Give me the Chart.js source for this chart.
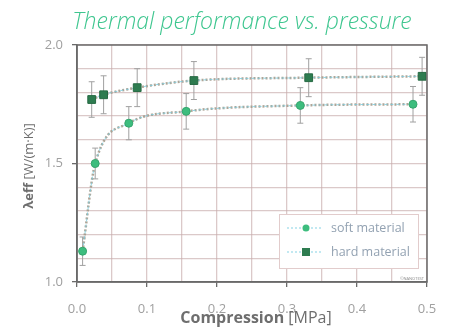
<!DOCTYPE html>
<html><head><meta charset="utf-8">
<script src="https://cdn.jsdelivr.net/npm/chart.js@4.4.1/dist/chart.umd.min.js"></script>
<style>html,body{margin:0;padding:0;background:#fff;}#wrap{width:454px;height:336px;position:relative}</style>
</head><body><div id="wrap"><canvas id="c" width="454" height="336"></canvas></div>
<script>
const chartTitle = 'Thermal performance vs. pressure';
const xTitleBold = 'Compression', xTitleRest = ' [MPa]';
const yTitleBold = 'λeff', yTitleRest = ' [W/(m·K)]';
const seriesNames = ['soft material', 'hard material'];
const softX = [0.008, 0.026, 0.074, 0.156, 0.319, 0.480];
const softY = [1.13, 1.50, 1.67, 1.72, 1.745, 1.75];
const softErr = [0.06, 0.065, 0.07, 0.075, 0.075, 0.075];
const hardX = [0.021, 0.038, 0.086, 0.167, 0.331, 0.493];
const hardY = [1.77, 1.79, 1.82, 1.85, 1.862, 1.868];
const hardErr = [0.075, 0.08, 0.08, 0.08, 0.08, 0.08];
const xTickLabels = [0.0, 0.1, 0.2, 0.3, 0.4, 0.5];
const yTickLabels = [1.0, 1.5, 2.0];
const watermark = '©NANOTEST';

const SOFT = '#3dbd7e', HARD = '#2e7c50';
const pts = (xs, ys) => xs.map((x, i) => ({x: x, y: ys[i]}));
const isLabel = (arr, v) => arr.some(a => Math.abs(a - v) < 1e-6);

const fitBase = {showLine: true, pointRadius: 0, pointHoverRadius: 0, cubicInterpolationMode: 'monotone', fill: false};
const data = {
  datasets: [
    Object.assign({label: 'soft fit', data: pts(softX, softY), borderColor: 'rgba(165,155,140,0.9)', borderWidth: 2.5, borderDash: [2, 2], order: 5}, fitBase),
    Object.assign({label: 'hard fit', data: pts(hardX, hardY), borderColor: 'rgba(165,155,140,0.9)', borderWidth: 2.5, borderDash: [2, 2], order: 5}, fitBase),
    Object.assign({label: 'soft line', data: pts(softX, softY), borderColor: 'rgba(120,205,225,0.8)', borderWidth: 1, borderDash: [3, 3], order: 4}, fitBase),
    Object.assign({label: 'hard line', data: pts(hardX, hardY), borderColor: 'rgba(120,205,225,0.8)', borderWidth: 1, borderDash: [3, 3], order: 4}, fitBase),
    {label: seriesNames[0], data: pts(softX, softY), showLine: false, pointStyle: 'circle', pointRadius: 4, backgroundColor: SOFT, borderColor: '#35a56d', borderWidth: 1, order: 1},
    {label: seriesNames[1], data: pts(hardX, hardY), showLine: false, pointStyle: 'rect', pointRadius: 5.5, backgroundColor: HARD, borderColor: '#266a43', borderWidth: 1, order: 1}
  ]
};

const deco = {
  id: 'deco',
  beforeDatasetsDraw(chart) {
    const ctx = chart.ctx, xs = chart.scales.x, ys = chart.scales.y;
    ctx.save();
    ctx.strokeStyle = '#a0a0a0';
    ctx.lineWidth = 1;
    [[softX, softY, softErr], [hardX, hardY, hardErr]].forEach(([X, Y, E]) => {
      X.forEach((x, i) => {
        const px = xs.getPixelForValue(x);
        const p1 = ys.getPixelForValue(Y[i] + E[i]);
        const p2 = ys.getPixelForValue(Y[i] - E[i]);
        ctx.beginPath();
        ctx.moveTo(px, p1); ctx.lineTo(px, p2);
        ctx.moveTo(px - 3, p1); ctx.lineTo(px + 3, p1);
        ctx.moveTo(px - 3, p2); ctx.lineTo(px + 3, p2);
        ctx.stroke();
      });
    });
    ctx.restore();
  },
  afterDraw(chart) {
    const ctx = chart.ctx, a = chart.chartArea;
    ctx.save();
    ctx.strokeStyle = '#6a6a6a';
    ctx.lineWidth = 1.5;
    ctx.strokeRect(a.left, a.top, a.right - a.left, a.bottom - a.top);
    ctx.fillStyle = '#3ec68f';
    ctx.font = 'italic 300 23px "Open Sans"';
    ctx.textAlign = 'center';
    ctx.textBaseline = 'alphabetic';
    ctx.fillText(chartTitle, 242, 29);
    const drawMixed = (bold, rest, size) => {
      ctx.font = 'bold ' + size + 'px "Open Sans"';
      const w1 = ctx.measureText(bold).width;
      ctx.font = size + 'px "Open Sans"';
      const w2 = ctx.measureText(rest).width;
      const x0 = -(w1 + w2) / 2;
      ctx.textAlign = 'left';
      ctx.font = 'bold ' + size + 'px "Open Sans"';
      ctx.fillText(bold, x0, 0);
      ctx.font = size + 'px "Open Sans"';
      ctx.fillText(rest, x0 + w1, 0);
    };
    ctx.fillStyle = '#6e6e6e';
    ctx.save();
    ctx.translate(256, 323);
    drawMixed(xTitleBold, xTitleRest, 16);
    ctx.restore();
    ctx.save();
    ctx.translate(33, 166);
    ctx.rotate(-Math.PI / 2);
    drawMixed(yTitleBold, yTitleRest, 13);
    ctx.restore();
    const lx = 279, ly = 214, lw = 139, lh = 54;
    ctx.fillStyle = '#ffffff';
    ctx.fillRect(lx, ly, lw, lh);
    ctx.strokeStyle = '#e2cccc';
    ctx.lineWidth = 1;
    ctx.strokeRect(lx + 0.5, ly + 0.5, lw, lh);
    [[228, 'circle', SOFT, seriesNames[0]], [252, 'rect', HARD, seriesNames[1]]].forEach(([y, st, col, name]) => {
      ctx.save();
      ctx.strokeStyle = 'rgba(120,205,225,0.9)';
      ctx.setLineDash([2, 2]);
      ctx.beginPath(); ctx.moveTo(287, y); ctx.lineTo(323, y); ctx.stroke();
      ctx.restore();
      ctx.fillStyle = col;
      if (st === 'circle') { ctx.beginPath(); ctx.arc(306, y, 3.5, 0, Math.PI * 2); ctx.fill(); }
      else { ctx.fillRect(302, y - 4, 8, 8); }
      ctx.fillStyle = '#93a2b2';
      ctx.font = '12.5px "Open Sans"';
      ctx.textAlign = 'left';
      ctx.textBaseline = 'middle';
      ctx.fillText(name, 331, y);
    });
    ctx.fillStyle = '#888';
    ctx.font = '4px "Open Sans"';
    ctx.textAlign = 'right';
    ctx.textBaseline = 'bottom';
    ctx.fillText(watermark, a.right - 3, a.bottom - 1);
    ctx.restore();
  }
};

const gridCol = 'rgba(200,172,172,0.65)';
new Chart(document.getElementById('c'), {
  type: 'scatter',
  data: data,
  plugins: [deco],
  options: {
    responsive: false,
    animation: false,
    events: [],
    layout: {padding: {left: 0, top: 45, right: 27, bottom: 0}},
    plugins: {legend: {display: false}, title: {display: false}, tooltip: {enabled: false}},
    scales: {
      x: {
        type: 'linear', min: 0, max: 0.5,
        afterFit: s => { s.height = 54; },
        ticks: {stepSize: 0.05, autoSkip: false, maxRotation: 0, padding: 14, color: '#a0a0a0', font: {family: 'Open Sans', size: 13},
          callback: v => isLabel(xTickLabels, v) ? v.toFixed(1) : ''},
        grid: {color: gridCol, lineWidth: 1.3, tickLength: 5,
          tickColor: c => (c.tick && isLabel(xTickLabels, c.tick.value)) ? '#6a6a6a' : 'rgba(0,0,0,0)'},
        border: {color: '#6a6a6a', width: 1.5}
      },
      y: {
        type: 'linear', min: 1, max: 2,
        afterFit: s => { s.width = 77; },
        ticks: {stepSize: 0.1, autoSkip: false, padding: 9, color: '#a0a0a0', font: {family: 'Open Sans', size: 13},
          callback: v => isLabel(yTickLabels, v) ? v.toFixed(1) : ''},
        grid: {color: gridCol, lineWidth: 1.3, tickLength: 5,
          tickColor: c => (c.tick && isLabel(yTickLabels, c.tick.value)) ? '#6a6a6a' : 'rgba(0,0,0,0)'},
        border: {color: '#6a6a6a', width: 1.5}
      }
    }
  }
});
</script></body></html>
